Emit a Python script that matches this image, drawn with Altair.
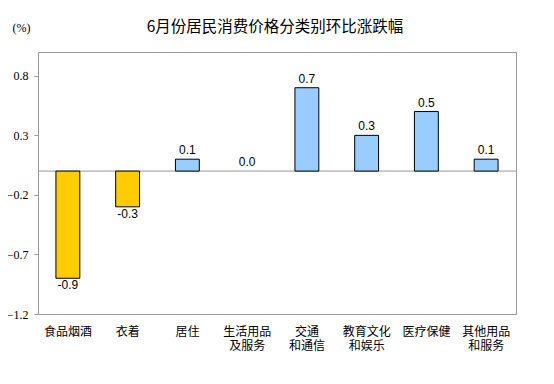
import altair as alt
import pandas as pd

categories = ["食品烟酒", "衣着", "居住", "生活用品\n及服务", "交通\n和通信",
              "教育文化\n和娱乐", "医疗保健", "其他用品\n和服务"]
values = [-0.9, -0.3, 0.1, 0.0, 0.7, 0.3, 0.5, 0.1]
labels = ["-0.9", "-0.3", "0.1", "0.0", "0.7", "0.3", "0.5", "0.1"]
y_ticks = [-1.2, -0.7, -0.2, 0.3, 0.8]
title_text = "6月份居民消费价格分类别环比涨跌幅"

df = pd.DataFrame({"cat": categories, "v": values, "lab": labels})

x_enc = alt.X(
    "cat:N", sort=categories, title=None,
    scale=alt.Scale(paddingInner=0.6, paddingOuter=0.3),
    axis=alt.Axis(labelAngle=0, labelExpr="split(datum.label, '\\n')",
                  labelFont="Noto Sans CJK SC", labelFontSize=12, labelColor="black",
                  labelLineHeight=14, labelBaseline="top", labelPadding=12,
                  ticks=False, domain=False),
)
y_scale = alt.Scale(domain=[-1.2, 1.0], nice=False, zero=False)
y_enc = alt.Y(
    "v:Q", scale=y_scale,
    axis=alt.Axis(values=y_ticks, format=".1f", grid=False, domain=False,
                  tickColor="#999999", tickSize=4, labelPadding=6,
                  labelFont="Liberation Serif", labelFontSize=12, labelColor="black",
                  title="(%)", titleAngle=0, titleFont="Liberation Serif",
                  titleFontSize=12, titleFontWeight="normal", titleColor="black",
                  titleX=-26, titleY=-25, titleAlign="left", titleBaseline="middle"),
)

base = alt.Chart(df)

zero = alt.Chart(pd.DataFrame({"z": [0.0]})).mark_rule(color="#999999", strokeWidth=1).encode(
    y=alt.Y("z:Q", scale=y_scale)
)

bars = base.mark_bar(stroke="black", strokeWidth=1).encode(
    x=x_enc, y=y_enc, y2=alt.datum(0),
    color=alt.condition("datum.v < 0", alt.value("#FFCC00"), alt.value("#99CCFF")),
    strokeOpacity=alt.condition("datum.v == 0", alt.value(0), alt.value(1)),
)

pos_text = base.transform_filter("datum.v >= 0").mark_text(
    baseline="bottom", dy=-2, font="Liberation Sans", fontSize=12, color="black"
).encode(x=alt.X("cat:N", sort=categories), y=alt.Y("v:Q", scale=y_scale), text="lab:N")

neg_text = base.transform_filter("datum.v < 0").mark_text(
    baseline="top", dy=2, font="Liberation Sans", fontSize=12, color="black"
).encode(x=alt.X("cat:N", sort=categories), y=alt.Y("v:Q", scale=y_scale), text="lab:N")

chart = alt.layer(zero, bars, pos_text, neg_text).properties(
    width=478, height=262,
    padding={"left": 30, "top": 44, "right": 20, "bottom": 40},
    autosize=alt.AutoSizeParams(type="none"),
    title=alt.TitleParams(title_text, font="Noto Sans CJK SC", fontSize=15.5,
                          fontWeight="normal", color="black", anchor="middle",
                          frame="group", offset=-14, dx=-2),
    background="white",
).configure_view(stroke="#999999", strokeWidth=1)

chart.save("out.html", embed_options={"renderer": "svg", "actions": False})
